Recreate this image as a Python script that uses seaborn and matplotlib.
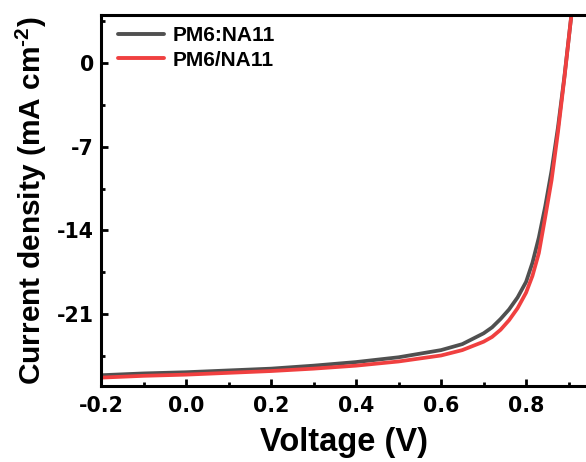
import numpy as np
import pandas as pd
import matplotlib
matplotlib.use("Agg")
import matplotlib.pyplot as plt
import seaborn as sns
from matplotlib.ticker import MultipleLocator

voltage = [-0.2, -0.1, 0.0, 0.1, 0.2, 0.3, 0.4, 0.5, 0.6, 0.65, 0.7, 0.72,
           0.74, 0.76, 0.78, 0.8, 0.815, 0.83, 0.845, 0.86, 0.875, 0.89, 0.905, 0.92]
j_colon = [-26.1, -25.95, -25.85, -25.7, -25.55, -25.3, -25.0, -24.6, -24.0,
           -23.5, -22.6, -22.1, -21.4, -20.6, -19.6, -18.3, -16.7, -14.6, -12.0,
           -9.0, -5.4, -1.2, 3.5, 8.0]
j_slash = [-26.3, -26.15, -26.05, -25.9, -25.75, -25.55, -25.3, -24.95, -24.45,
           -24.0, -23.3, -22.9, -22.3, -21.5, -20.5, -19.2, -17.8, -15.9, -12.9,
           -9.8, -5.8, -1.3, 3.5, 8.0]
labels = ["PM6:NA11", "PM6/NA11"]
xticks = [-0.2, 0.0, 0.2, 0.4, 0.6, 0.8]
xtick_labels = ["-0.2", "0.0", "0.2", "0.4", "0.6", "0.8"]
yticks = [0, -7, -14, -21]
ytick_labels = ["0", "-7", "-14", "-21"]

df = pd.concat([
    pd.DataFrame({"V": voltage, "J": j_colon, "s": labels[0]}),
    pd.DataFrame({"V": voltage, "J": j_slash, "s": labels[1]}),
])

sns.set_style("ticks")
plt.rcParams['font.family'] = ['Liberation Sans', 'DejaVu Sans']
plt.rcParams['font.weight'] = 'bold'
plt.rcParams['mathtext.fontset'] = 'custom'
plt.rcParams['mathtext.rm'] = 'Liberation Sans:bold'
plt.rcParams['mathtext.bf'] = 'Liberation Sans:bold'
plt.rcParams['mathtext.default'] = 'rm'
for k in ['text.color', 'axes.labelcolor', 'xtick.color', 'ytick.color', 'axes.edgecolor']:
    plt.rcParams[k] = 'black'

fig = plt.figure(figsize=(5.86, 4.62), dpi=100)
ax = fig.add_axes([0.1724, 0.1645, 0.8276, 0.803])

sns.lineplot(data=df, x="V", y="J", hue="s", hue_order=labels,
             palette=["#505050", "#f04040"], linewidth=2.7, ax=ax, sort=False)

ax.set_xlim(-0.2, 0.941)
ax.set_ylim(-27, 4)
ax.xaxis.set_minor_locator(MultipleLocator(0.1))
ax.yaxis.set_minor_locator(MultipleLocator(3.5))
ax.set_yticks(yticks)
ax.set_yticklabels(ytick_labels)
ax.set_xticks(xticks)
ax.set_xticklabels(xtick_labels)

for side in ["left", "bottom", "top"]:
    ax.spines[side].set_linewidth(2.2)
    ax.spines[side].set_color("black")
ax.spines["right"].set_visible(False)
ax.tick_params(which="major", direction="in", length=5, width=2,
               top=False, right=False, color="black", labelcolor="black")
ax.tick_params(axis="x", which="major", pad=7)
ax.tick_params(axis="y", which="major", pad=5)
ax.tick_params(which="minor", direction="in", length=3, width=2, top=False,
               right=False, color="black")
for lab in ax.get_xticklabels() + ax.get_yticklabels():
    lab.set_fontweight("bold")
    lab.set_fontfamily("DejaVu Sans")
    lab.set_fontsize(14.8)

ax.set_xlabel("Voltage (V)", fontsize=23.5, fontweight="bold", labelpad=8)
ax.set_ylabel("Current density (mA cm$^{\\text{-2}}$)", fontsize=21.5,
              fontweight="bold", labelpad=6)

leg = ax.legend(loc="upper left", bbox_to_anchor=(0.011, 1.0), frameon=False,
                handlelength=2.2, handletextpad=0.45, labelspacing=0.25,
                borderaxespad=0.15, title=None, prop={"weight": "bold", "size": 15})
for line in leg.get_lines():
    line.set_linewidth(2.8)

fig.savefig("out.png", dpi=100)
